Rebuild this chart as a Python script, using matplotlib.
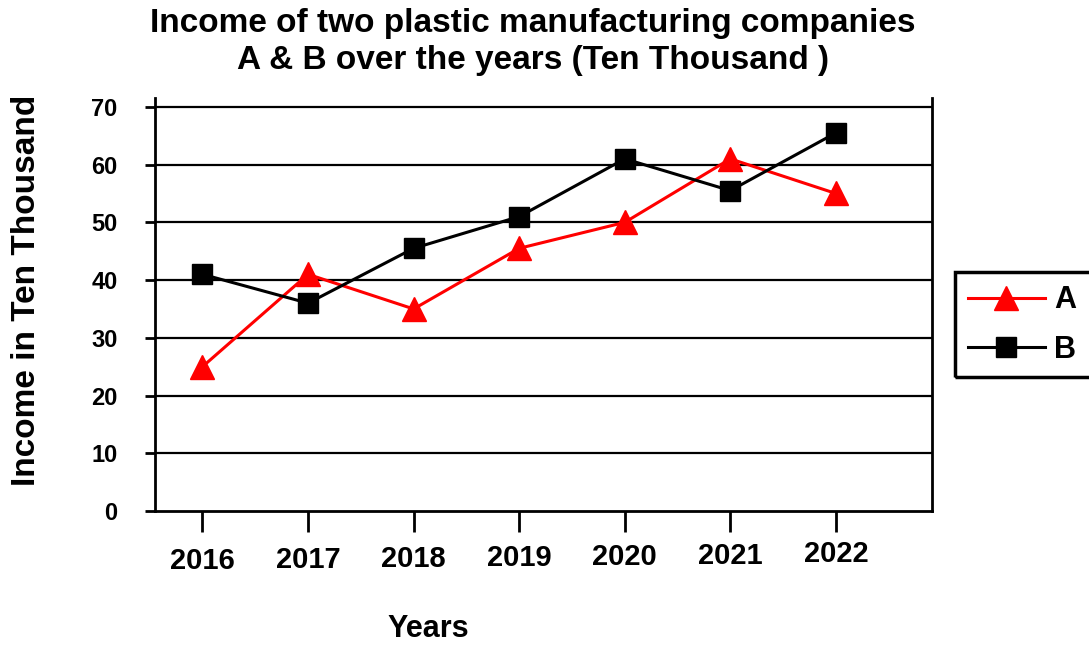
import matplotlib.pyplot as plt
from matplotlib.patches import Rectangle

# data
years = [2016, 2017, 2018, 2019, 2020, 2021, 2022]
incomeA = [25, 41, 35, 45.5, 50, 61, 55]
incomeB = [41, 36, 45.5, 51, 61, 55.5, 65.5]
yTicks = [0, 10, 20, 30, 40, 50, 60, 70]

plt.rcParams['font.family'] = ['Liberation Sans', 'DejaVu Sans']
plt.rcParams['font.weight'] = 'bold'

W, H = 1089, 648
fig = plt.figure(figsize=(W / 100, H / 100), dpi=100)
ax = fig.add_axes([0.1423, 0.2114, 0.7135, 0.637])

for y in yTicks[1:]:
    ax.axhline(y, color='black', lw=1.6, zorder=1)

ax.plot(years, incomeA, color='#ff0000', lw=2.2, marker='^', markersize=17,
        label='A', zorder=3)
ax.plot(years, incomeB, color='black', lw=2.2, marker='s', markersize=14,
        label='B', zorder=3)

ax.set_xlim(2015.55, 2022.91)
ax.set_ylim(0, 71.5)
ax.set_xticks(years)
ax.set_yticks(yTicks)
ax.tick_params(axis='x', length=15, width=2, pad=11, labelsize=21)
ax.tick_params(axis='y', length=7, width=2, pad=20, labelsize=17)
for lbl in ax.get_xticklabels() + ax.get_yticklabels():
    lbl.set_fontweight('bold')
# year labels drift slightly upward from left to right, as in the original
for i, tick in enumerate(ax.xaxis.get_major_ticks()):
    tick.set_pad(11 - i * 0.8)
ax.spines['top'].set_visible(False)
for s in ['left', 'right', 'bottom']:
    ax.spines[s].set_linewidth(2)

fig.text(428 / W, 1 - 629 / H, 'Years', ha='center', va='center',
         fontsize=22, fontweight='bold')
fig.text(27 / W, 1 - 290 / H, 'Income in Ten Thousand', rotation=90,
         ha='center', va='center', fontsize=24, fontweight='bold')
fig.text(0.489, 1 - 42 / H,
         'Income of two plastic manufacturing companies\nA & B over the years (Ten Thousand )',
         ha='center', va='center', fontsize=24, fontweight='bold', linespacing=1.25)

leg = fig.legend(loc='upper left', bbox_to_anchor=(0.877, 0.58), fontsize=22,
                 frameon=False, borderaxespad=0, handlelength=2.5,
                 handletextpad=0.3, borderpad=0.43, labelspacing=0.64)
for t in leg.get_texts():
    t.set_fontweight('bold')
# legend box runs off the right edge in the original
fig.patches.append(Rectangle((955 / W, 1 - 377 / H), 160 / W, 105 / H,
                             transform=fig.transFigure, fill=False,
                             edgecolor='black', lw=2.5, clip_on=False))

fig.savefig('out.png', dpi=100)
